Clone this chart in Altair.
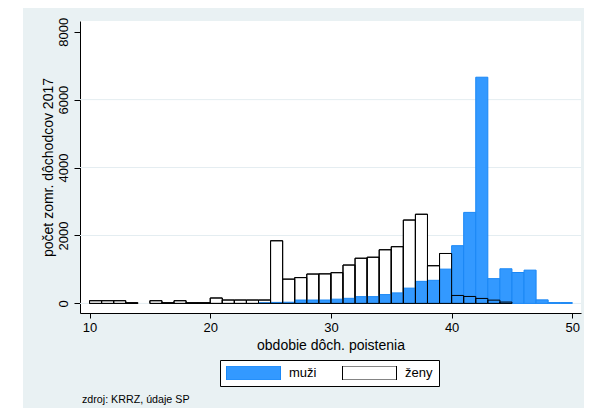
import altair as alt
import pandas as pd

# ---- data ----
bins = list(range(10, 50))  # bin starts, width 1
muzi = [0, 0, 0, 0, 0, 0, 0, 0, 0, 0,
        0, 0, 0, 0, 20, 30, 35, 100, 100, 100,
        125, 150, 200, 200, 260, 310, 450, 650, 680, 1010,
        1700, 2680, 6660, 730, 1020, 910, 980, 105, 25, 25]
zeny = [80, 80, 80, 20, 0, 80, 20, 80, 20, 20,
        160, 100, 100, 100, 100, 1845, 715, 760, 865, 870,
        905, 1130, 1330, 1360, 1580, 1670, 2455, 2625, 1110, 1470,
        235, 205, 147, 97, 40, 0, 0, 0, 0, 0]
sexes = ["muži", "ženy"]
x_ticks = [10, 20, 30, 40, 50]
y_ticks = [0, 2000, 4000, 6000, 8000]
grid_vals = [0, 2000, 4000, 6000]
x_title = "obdobie dôch. poistenia"
y_title = "počet zomr. dôchodcov 2017"
source_note = "zdroj: KRRZ, údaje SP"

rows = []
for s, vals in zip(sexes, [muzi, zeny]):
    for b, v in zip(bins, vals):
        if v > 0:
            rows.append({"start": b, "end": b + 1, "count": v, "sex": s})
df = pd.DataFrame(rows)
df_m = df[df.sex == "muži"]
df_z = df[df.sex == "ženy"]
grid_df = pd.DataFrame({"count": grid_vals})
note_df = pd.DataFrame({"t": [source_note]})

FONT = "Liberation Sans"
W, H = 501, 292
BG = "#E9F1F3"

xscale = alt.Scale(domain=[9.21, 50.72], nice=False, zero=False)
yscale = alt.Scale(domain=[-282, 8315], nice=False, zero=False)
fill_scale = alt.Scale(domain=sexes, range=["#3399FF", "#FFFFFF"])
stroke_scale = alt.Scale(domain=sexes, range=["#1A87F5", "#000000"])

xaxis = alt.Axis(values=x_ticks, title=x_title, grid=False, tickSize=5,
                 labelPadding=3, labelFontSize=13, titleFontSize=14,
                 titleFontWeight="normal", format="d", labelFlush=False,
                 titleY=32, titleBaseline="middle")
yaxis = alt.Axis(values=y_ticks, title=y_title, grid=False, tickSize=6,
                 labelAngle=270, labelAlign="center", labelBaseline="bottom",
                 labelPadding=4, labelFontSize=13, titleFontSize=14,
                 titleFontWeight="normal", format="d", labelFlush=False,
                 titleAngle=270, titleX=-32, titleY=H / 2,
                 titleAlign="center", titleBaseline="middle")

legend = alt.Legend(title=None, orient="none", legendX=140, legendY=339,
                    direction="horizontal", fillColor="white",
                    strokeColor="black", padding=6,
                    symbolType="M-1,-0.26H1V0.26H-1Z", symbolSize=2916,
                    symbolStrokeWidth=1, clipHeight=14, labelFontSize=13,
                    labelFont=FONT, labelColor="black", labelOffset=8,
                    columnPadding=25, cornerRadius=0, labelLimit=0)

X = alt.X("start:Q", scale=xscale, axis=xaxis)
X2 = alt.X2("end:Q")
Y = alt.Y("count:Q", scale=yscale, axis=yaxis)

strip = alt.Chart(note_df).mark_rect(color="white", clip=False).encode(
    x=alt.value(-72), x2=alt.value(-57), y=alt.value(-13), y2=alt.value(390))

grid = alt.Chart(grid_df).mark_rule(color="#E4EDF1", strokeWidth=1).encode(
    y=alt.Y("count:Q", scale=yscale, axis=yaxis))

fill_enc = alt.Fill("sex:N", scale=fill_scale, legend=legend)
stroke_enc = alt.Stroke("sex:N", scale=stroke_scale, legend=legend)

zeny_fill = alt.Chart(df_z).mark_rect(strokeWidth=1).encode(
    x=X, x2=X2, y=Y, y2=alt.datum(0), fill=fill_enc, stroke=stroke_enc)
muzi_bars = alt.Chart(df_m).mark_rect(strokeWidth=1).encode(
    x=X, x2=X2, y=Y, y2=alt.datum(0), fill=fill_enc, stroke=stroke_enc)
zeny_outline = alt.Chart(df_z).mark_rect(filled=False, stroke="black",
                                          strokeWidth=1).encode(
    x=X, x2=X2, y=Y, y2=alt.datum(0))

note = alt.Chart(note_df).mark_text(align="left", baseline="middle",
                                    fontSize=10.7, font=FONT, color="black",
                                    clip=False).encode(
    text="t:N", x=alt.value(2), y=alt.value(379))

chart = alt.layer(strip, grid, zeny_fill, muzi_bars, zeny_outline, note).properties(
    width=W, height=H,
    autosize=alt.AutoSizeParams(type="none"),
    padding={"left": 72, "top": 13, "right": 3, "bottom": 95},
    background=BG,
).configure_view(fill="white", stroke=None).configure_axis(
    labelFont=FONT, titleFont=FONT, domainColor="black", tickColor="black",
    labelColor="black", titleColor="black", domainWidth=1, tickWidth=1
)

chart.save("out.html", embed_options={"renderer": "svg", "actions": False})
